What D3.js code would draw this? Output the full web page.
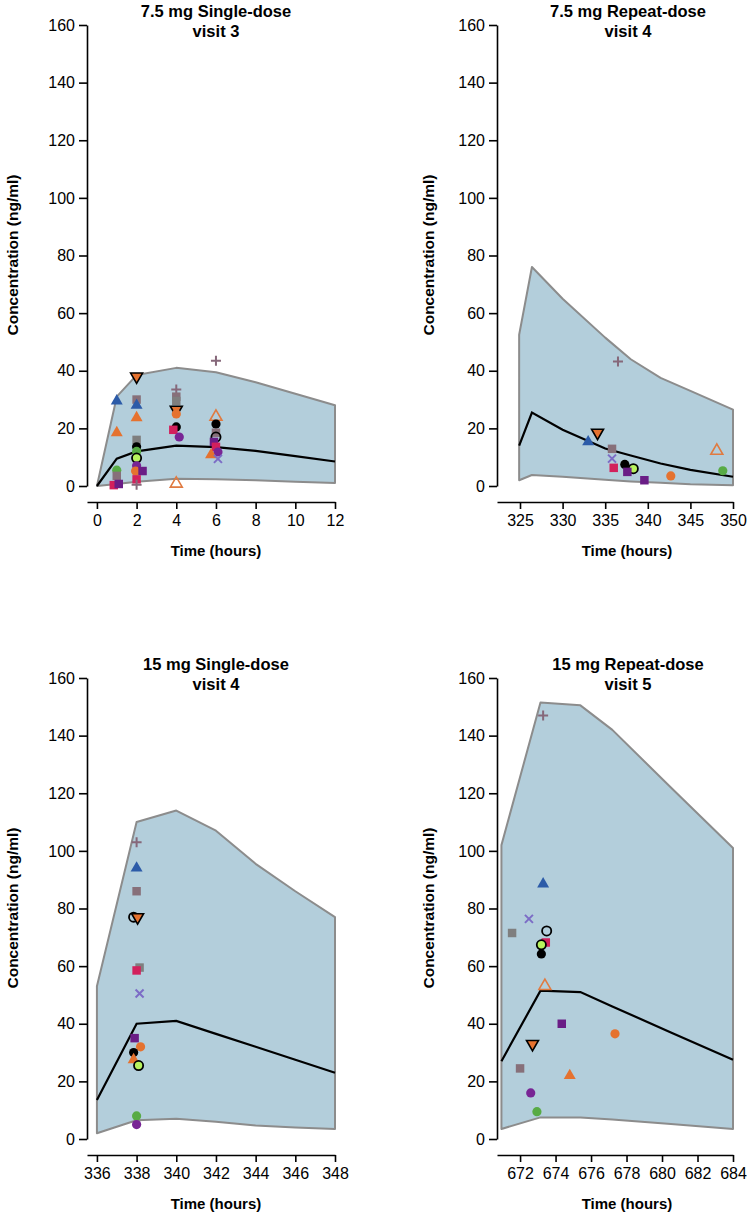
<!DOCTYPE html>
<html><head><meta charset="utf-8">
<script src="https://cdn.jsdelivr.net/npm/d3@7"></script>
<style>
body{margin:0;background:#fff}
svg{display:block}
text{font-family:"Liberation Sans",Arial,sans-serif;fill:#000}
</style>
</head><body>
<svg id="chart" width="747" height="1222"></svg>
<script>
// ---------------- DATA ----------------
const yTicks = [0, 20, 40, 60, 80, 100, 120, 140, 160];

const p1Title = ["7.5 mg Single-dose", "visit 3"];
const p1XTicks = [0, 2, 4, 6, 8, 10, 12];
const p1Times = [0, 1, 2, 4, 6, 8, 10, 12];
const p1Upper = [0, 31, 38.5, 41, 39.5, 36, 32, 28];
const p1Lower = [0, 0.7, 1.5, 2.5, 2.3, 2, 1.5, 1];
const p1Median = [0, 9.5, 12, 14, 13.5, 12.2, 10.4, 8.5];
const p1Points = [
  [1, 29.5, "bt"], [1, 18.5, "ot"], [1, 5.5, "gc"], [1, 3.5, "ts"], [0.85, 0.3, "cs"], [1.1, 0.7, "ps"],
  [2, 38, "odt"], [2, 30, "ts"], [2, 28, "bt"], [2, 23.7, "ot"], [2, 16, "gs"], [2, 13.6, "kc"],
  [2, 12, "gc"], [2, 9.7, "lgc"], [2, 7, "pc"], [1.95, 5.2, "oc"], [2.3, 5.2, "ps"], [2, 2.3, "cs"], [2, 0.4, "tp"],
  [4, 33.5, "tp"], [4, 31, "ts"], [4, 29.5, "gs"], [4, 26.5, "odt"], [4, 25, "oc"], [4, 20.5, "kc"],
  [3.85, 19.5, "cs"], [4.15, 17, "pc"], [4, 0.8, "oto"],
  [6, 43.5, "tp"], [6, 24, "oto"], [6, 21.5, "kc"], [6, 18.5, "ts"], [6, 17, "koc"], [5.9, 15.3, "ps"],
  [6, 13.6, "cs"], [6.1, 11.8, "pc"], [5.75, 10.8, "ot"], [6.1, 9.4, "lx"]
];

const p2Title = ["7.5 mg Repeat-dose", "visit 4"];
const p2XTicks = [325, 330, 335, 340, 345, 350];
const p2Times = [324.9, 326.4, 330, 335, 338, 341.5, 345, 350];
const p2Upper = [52.5, 76, 65, 51.5, 44, 37.5, 33, 26.5];
const p2Lower = [2, 3.8, 3.2, 2.2, 1.6, 1.1, 0.6, 0.3];
const p2Median = [14, 25.5, 19.5, 13, 10.6, 7.8, 5.6, 3.2];
const p2Points = [
  [336.5, 43.2, "tp"], [334.1, 18.5, "odt"], [333, 15.3, "bt"], [335.8, 12.9, "ts"], [335.8, 9.5, "lx"],
  [336, 6.3, "cs"], [337.3, 7.5, "kc"], [338.3, 6, "lgc"], [337.6, 4.9, "ps"], [339.6, 2, "ps"],
  [342.7, 3.5, "oc"], [348.1, 12.2, "oto"], [348.8, 5.3, "gc"]
];

const p3Title = ["15 mg Single-dose", "visit 4"];
const p3XTicks = [336, 338, 340, 342, 344, 346, 348];
const p3Times = [336, 338, 340, 342, 344, 346, 348];
const p3Upper = [53, 110, 114, 107, 95.5, 86, 77];
const p3Lower = [2, 6.5, 7, 6, 4.7, 4, 3.5];
const p3Median = [13.5, 40, 41, 36.5, 32, 27.5, 23];
const p3Points = [
  [338, 103, "tp"], [338, 94, "bt"], [338, 86, "ts"], [337.85, 77, "koc"], [338.05, 77, "odt"],
  [338.15, 59.5, "gs"], [338, 58.5, "cs"], [338.15, 50.5, "lx"], [337.9, 35, "ps"], [338.2, 32, "oc"],
  [337.85, 30, "kc"], [337.85, 27.5, "ot"], [338.1, 25.5, "lgc"], [338, 8, "gc"], [338, 5, "pc"]
];

const p4Title = ["15 mg Repeat-dose", "visit 5"];
const p4XTicks = [672, 674, 676, 678, 680, 682, 684];
const p4Times = [670.95, 673.15, 675.4, 677.2, 680.5, 684];
const p4Upper = [102, 151.5, 150.5, 142, 122, 101];
const p4Lower = [3.5, 7.5, 7.5, 6.8, 5.2, 3.5];
const p4Median = [27, 51.5, 51, 46, 37, 27.5];
const p4Points = [
  [673.3, 147, "tp"], [673.3, 88.5, "bt"], [671.55, 71.5, "gs"], [672.5, 76.4, "lx"], [673.5, 72.2, "koc"],
  [673.45, 68.2, "cs"], [673.2, 67.4, "lgc"], [673.2, 64.2, "kc"], [673.4, 53.1, "oto"],
  [672.7, 33, "odt"], [672, 24.5, "ts"], [672.6, 16, "pc"], [672.95, 9.5, "gc"],
  [674.35, 40, "ps"], [674.8, 22, "ot"], [677.35, 36.5, "oc"]
];

const yLabel = "Concentration (ng/ml)";
const xLabel = "Time (hours)";

// ---------------- STYLE / LAYOUT ----------------
const markerStyle = {
  bt:  {shape: "tri",  fill: "#2c5ba8", stroke: "none"},
  ot:  {shape: "tri",  fill: "#e5722f", stroke: "none"},
  oto: {shape: "tri",  fill: "none", stroke: "#e07a40", sw: 1.6},
  odt: {shape: "dtri", fill: "#e5722f", stroke: "#000", sw: 1.6},
  tp:  {shape: "plus", fill: "none", stroke: "#86687a", sw: 2},
  gs:  {shape: "sq",   fill: "#7f7f7f", stroke: "none"},
  ts:  {shape: "sq",   fill: "#87707a", stroke: "none"},
  cs:  {shape: "sq",   fill: "#d2205c", stroke: "none"},
  ps:  {shape: "sq",   fill: "#6a1d86", stroke: "none"},
  kc:  {shape: "circ", fill: "#000", stroke: "none"},
  koc: {shape: "circ", fill: "none", stroke: "#000", sw: 1.8},
  gc:  {shape: "circ", fill: "#58ab45", stroke: "none"},
  lgc: {shape: "circ", fill: "#b8f35e", stroke: "#000", sw: 1.8},
  pc:  {shape: "circ", fill: "#782595", stroke: "none"},
  oc:  {shape: "circ", fill: "#e5722f", stroke: "none"},
  lx:  {shape: "x",    fill: "none", stroke: "#7c6cc6", sw: 2}
};

const panels = [
  {title: p1Title, xt: p1XTicks, t: p1Times, up: p1Upper, lo: p1Lower, med: p1Median, pts: p1Points,
   axisX: 87, xDom: [-0.5, 12], xRange: [87, 335], top: 0, titleX: 216, yLabX: 18, xLabX: 216},
  {title: p2Title, xt: p2XTicks, t: p2Times, up: p2Upper, lo: p2Lower, med: p2Median, pts: p2Points,
   axisX: 497, xDom: [322.3, 350], xRange: [497, 733], top: 0, titleX: 628, yLabX: 434, xLabX: 627},
  {title: p3Title, xt: p3XTicks, t: p3Times, up: p3Upper, lo: p3Lower, med: p3Median, pts: p3Points,
   axisX: 87, xDom: [335.5, 348], xRange: [87, 335], top: 653, titleX: 216, yLabX: 18, xLabX: 216},
  {title: p4Title, xt: p4XTicks, t: p4Times, up: p4Upper, lo: p4Lower, med: p4Median, pts: p4Points,
   axisX: 497, xDom: [670.7, 684], xRange: [497, 733], top: 653, titleX: 628, yLabX: 434, xLabX: 627}
];

const svg = d3.select("#chart");

function drawMarker(g, x, y, code) {
  const s = markerStyle[code];
  let el;
  if (s.shape === "tri" || s.shape === "dtri") {
    el = g.append("path").attr("d", d3.symbol(d3.symbolTriangle, 62)())
      .attr("transform", `translate(${x},${y})` + (s.shape === "dtri" ? " rotate(180)" : ""));
  } else if (s.shape === "sq") {
    el = g.append("path").attr("d", d3.symbol(d3.symbolSquare, 72)()).attr("transform", `translate(${x},${y})`);
  } else if (s.shape === "circ") {
    el = g.append("circle").attr("cx", x).attr("cy", y).attr("r", 4.6);
  } else if (s.shape === "plus") {
    el = g.append("path").attr("d", "M-5,0H5M0,-5V5").attr("transform", `translate(${x},${y})`);
  } else if (s.shape === "x") {
    el = g.append("path").attr("d", "M-4,-4L4,4M-4,4L4,-4").attr("transform", `translate(${x},${y})`);
  }
  el.attr("fill", s.fill).attr("stroke", s.stroke).attr("stroke-width", s.sw || 0);
}

panels.forEach(p => {
  const g = svg.append("g");
  const y = d3.scaleLinear().domain([0, 160]).range([486 + p.top, 25 + p.top]);
  const x = d3.scaleLinear().domain(p.xDom).range(p.xRange);
  const rows = p.t.map((t, i) => ({t, up: p.up[i], lo: p.lo[i], med: p.med[i]}));

  // prediction band
  const area = d3.area().x(d => x(d.t)).y0(d => y(d.lo)).y1(d => y(d.up));
  g.append("path").datum(rows).attr("d", area)
    .attr("fill", "#b3cedb").attr("stroke", "#8c8c8c").attr("stroke-width", 2)
    .attr("stroke-linejoin", "round");

  // median line
  const line = d3.line().x(d => x(d.t)).y(d => y(d.med));
  g.append("path").datum(rows).attr("d", line)
    .attr("fill", "none").attr("stroke", "#000").attr("stroke-width", 2.2);

  // observed points
  p.pts.forEach(d => drawMarker(g, x(d[0]), y(d[1]), d[2]));

  // y axis
  const yAxis = d3.axisLeft(y).tickValues(yTicks).tickSize(8).tickPadding(4).tickSizeOuter(0);
  const ya = g.append("g").attr("transform", `translate(${p.axisX},0)`).call(yAxis);
  ya.select(".domain").attr("stroke-width", 1.6);
  ya.selectAll(".tick line").attr("stroke-width", 1.6);
  ya.selectAll("text").attr("font-size", 16).attr("font-family", "Liberation Sans, Arial, sans-serif");

  // x axis (offset)
  const xAxis = d3.axisBottom(x).tickValues(p.xt).tickSize(7).tickPadding(6).tickSizeOuter(0);
  const xa = g.append("g").attr("transform", `translate(0,${502 + p.top})`).call(xAxis);
  xa.select(".domain").attr("stroke-width", 1.6);
  xa.selectAll(".tick line").attr("stroke-width", 1.6);
  xa.selectAll("text").attr("font-size", 16).attr("font-family", "Liberation Sans, Arial, sans-serif");

  // titles
  g.append("text").attr("x", p.titleX).attr("y", 17 + p.top).attr("text-anchor", "middle")
    .attr("font-size", 16.5).attr("font-weight", "bold").text(p.title[0]);
  g.append("text").attr("x", p.titleX).attr("y", 37 + p.top).attr("text-anchor", "middle")
    .attr("font-size", 16.5).attr("font-weight", "bold").text(p.title[1]);

  // axis labels
  g.append("text").attr("transform", `translate(${p.yLabX},${255 + p.top}) rotate(-90)`)
    .attr("text-anchor", "middle").attr("font-size", 15.5).attr("font-weight", "bold").text(yLabel);
  g.append("text").attr("x", p.xLabX).attr("y", 556 + p.top)
    .attr("text-anchor", "middle").attr("font-size", 15).attr("font-weight", "bold").text(xLabel);
});
</script>
</body></html>
